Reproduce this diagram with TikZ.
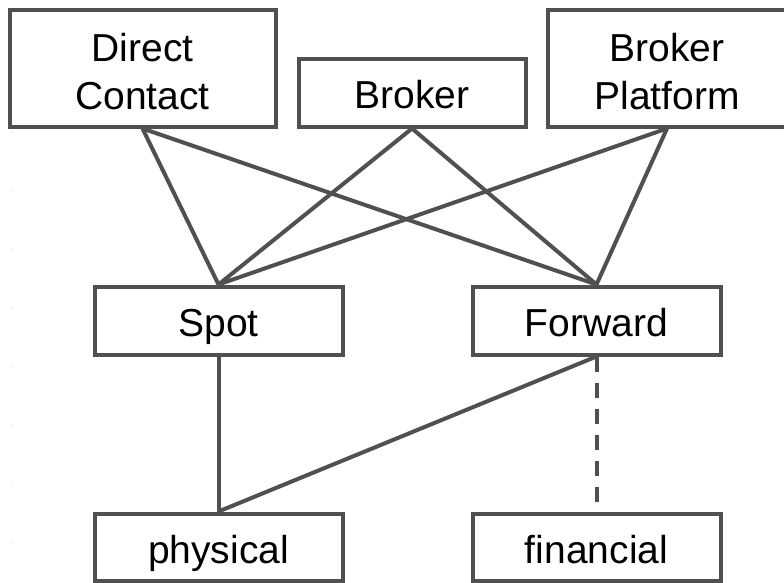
\documentclass[tikz,border=0pt]{standalone}
\usepackage{fontspec}
\setmainfont{Liberation Sans}
\begin{document}
\begin{tikzpicture}[x=1pt,y=-1pt,
  box/.style={draw=linegray, line width=4pt, fill=white, inner sep=0pt,
    align=center, font=\fontsize{39}{48}\selectfont,
    text height=38pt, text depth=6pt},
  tallbox/.style={box, text height=90pt, text depth=8pt},
  link/.style={draw=linegray, line width=4pt},
  optlink/.style={link, dash pattern=on 15pt off 11pt}]
\definecolor{linegray}{HTML}{505050}
\useasboundingbox (0,0) rectangle (784,582);

% faint marks along the left margin
\foreach \yy in {132,190,249,308,366,425,483,542}
  \fill[gray!45] (12,\yy) circle (0.7);

% channels
\node[tallbox, minimum width=266pt, minimum height=117pt] (dc) at (142.5,68) {Direct\\Contact};
\node[box, minimum width=227pt, minimum height=68pt] (br) at (412,92.5) {Broker};
\node[tallbox, minimum width=238pt, minimum height=117pt] (bp) at (667,68) {Broker\\Platform};

% contract types
\node[box, minimum width=248pt, minimum height=68pt] (spot) at (218.5,320.5) {Spot};
\node[box, minimum width=248pt, minimum height=68pt] (fwd) at (596.5,320.5) {Forward};

% settlement
\node[box, minimum width=248pt, minimum height=67pt] (phys) at (218.5,547) {physical};
\node[box, minimum width=248pt, minimum height=67pt] (fin) at (596.5,547) {financial};

% connections
\foreach \src in {dc,br,bp}{
  \draw[link] (\src.south) -- (spot.north);
  \draw[link] (\src.south) -- (fwd.north);
}
\draw[link] (spot.south) -- (phys.north);
\draw[link] (fwd.south) -- (phys.north);
\draw[optlink] (fwd.south) -- (fin.north);
\end{tikzpicture}
\end{document}
